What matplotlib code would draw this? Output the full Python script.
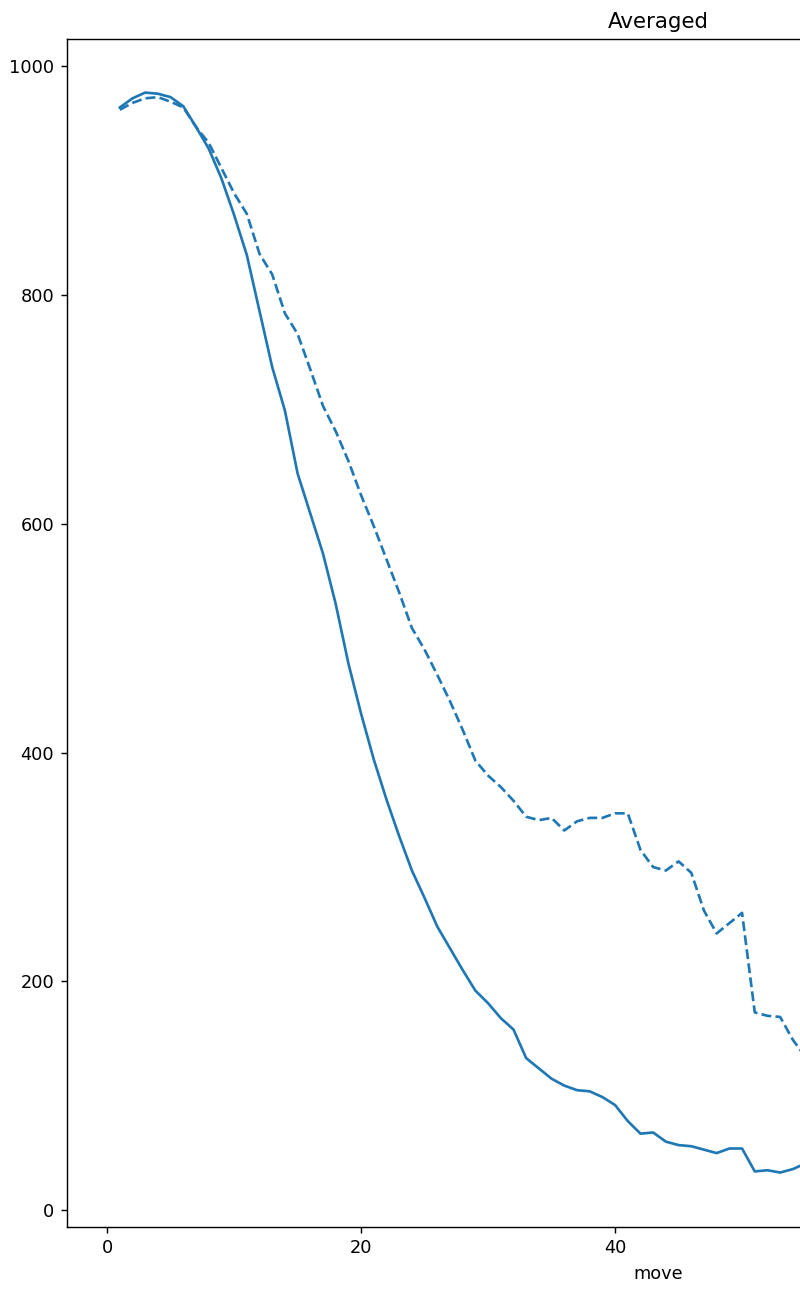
import numpy as np
import matplotlib
matplotlib.use("Agg")
import matplotlib.pyplot as plt

# values (x = move number)
moves = np.arange(1, 57)
avg_solid = [964, 972, 977, 976, 973, 965, 947, 928, 902, 870,
             835, 786, 737, 699, 644, 609, 574, 530, 478, 434,
             394, 359, 327, 297, 273, 248, 229, 210, 192, 181,
             168, 158, 133, 124, 115, 109, 105, 104, 99, 92,
             78, 67, 68, 60, 57, 56, 53, 50, 54, 54,
             34, 35, 33, 36, 41, 45]
avg_dashed = [962, 968, 972, 973, 969, 964, 947, 933, 911, 889,
              871, 836, 818, 784, 766, 735, 703, 681, 655, 625,
              598, 569, 540, 509, 490, 468, 445, 420, 393, 380,
              370, 358, 344, 341, 343, 332, 340, 343, 343, 347,
              347, 315, 300, 297, 305, 295, 262, 242, 251, 260,
              173, 170, 169, 149, 134, 120]

dpi = 128
fig = plt.figure(figsize=(800 / dpi, 1291 / dpi), dpi=dpi)
# the original axes run past the right edge of the picture
ax = fig.add_axes([66.5 / 800, 64 / 1291, 1183.5 / 800, 1188.3 / 1291])

ax.plot(moves, avg_solid, color="#1f77b4", linestyle="-")
ax.plot(moves, avg_dashed, color="#1f77b4", linestyle="--")

ax.set_xlim(-3.2, 90.0)
ax.set_ylim(-14.6, 1024.1)
ax.set_xticks([0, 20, 40])
ax.set_yticks([0, 200, 400, 600, 800, 1000])
ax.set_title("Averaged")
ax.set_xlabel("move")

fig.savefig("out.png", dpi=dpi)
